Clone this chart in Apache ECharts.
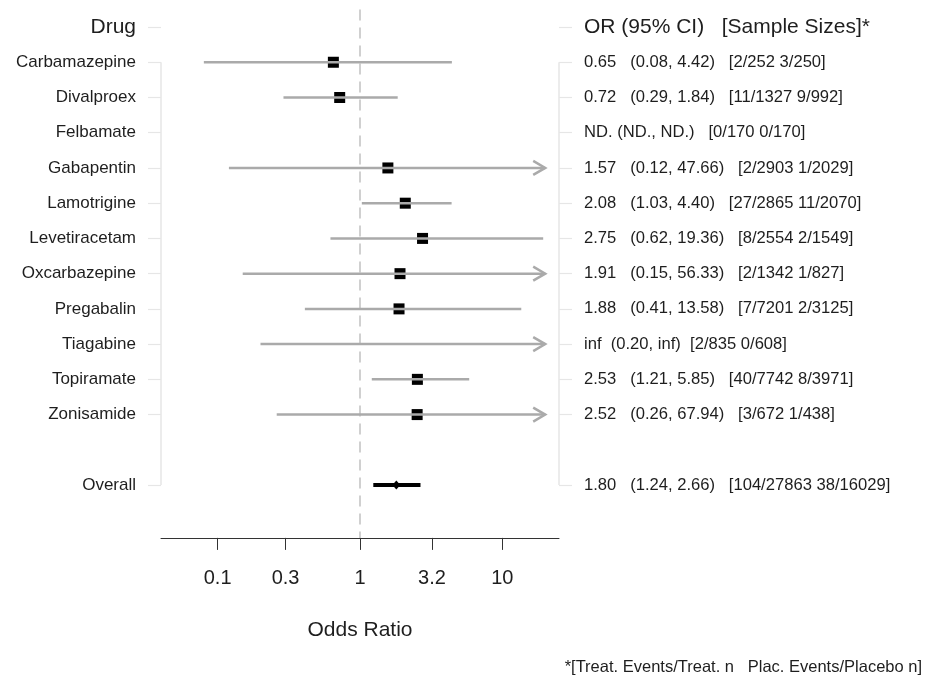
<!DOCTYPE html>
<html>
<head>
<meta charset="utf-8">
<script src="https://cdn.jsdelivr.net/npm/echarts@6/dist/echarts.min.js"></script>
<style>html,body{margin:0;padding:0;background:#fff;}#chart{width:929px;height:677px;}</style>
</head>
<body>
<div id="chart"></div>
<script>
// ---- data ----
const drugs = ['Carbamazepine','Divalproex','Felbamate','Gabapentin','Lamotrigine','Levetiracetam','Oxcarbazepine','Pregabalin','Tiagabine','Topiramate','Zonisamide'];
const orEst  = [0.65, 0.72, null, 1.57, 2.08, 2.75, 1.91, 1.88, Infinity, 2.53, 2.52];
const ciLow  = [0.08, 0.29, null, 0.12, 1.03, 0.62, 0.15, 0.41, 0.20, 1.21, 0.26];
const ciHigh = [4.42, 1.84, null, 47.66, 4.40, 19.36, 56.33, 13.58, Infinity, 5.85, 67.94];
const sampleSizes = ['2/252 3/250','11/1327 9/992','0/170 0/170','2/2903 1/2029','27/2865 11/2070','8/2554 2/1549','2/1342 1/827','7/7201 2/3125','2/835 0/608','40/7742 8/3971','3/672 1/438'];
const overallLabel = 'Overall';
const overallEst = 1.80, overallLow = 1.24, overallHigh = 2.66;
const overallSizes = '104/27863 38/16029';
const xTicks = [0.1, 0.3, 1, 3.2, 10];
const xMin = 0.04, xMax = 25, clipMax = 20, refLine = 1;
const leftHeader = 'Drug';
const rightHeader = 'OR (95% CI)   [Sample Sizes]*';
const footnote = '*[Treat. Events/Treat. n   Plac. Events/Placebo n]';

// ---- derived ----
function fmt(v){ return v == null ? 'ND.' : (isFinite(v) ? v.toFixed(2) : 'inf'); }
function rowText(e, l, h, n){
  if (e == null) return 'ND. (ND., ND.)   [' + n + ']';
  const gap = isFinite(e) ? '   ' : '  ';
  return fmt(e) + gap + '(' + fmt(l) + ', ' + fmt(h) + ')' + gap + '[' + n + ']';
}
const rowLabels = [leftHeader].concat(drugs, [' ', overallLabel, '  ']);
const rightLabels = [rightHeader].concat(
  drugs.map((d, i) => rowText(orEst[i], ciLow[i], ciHigh[i], sampleSizes[i])),
  [' ', rowText(overallEst, overallLow, overallHigh, overallSizes), '  ']);

const ciData = [];
drugs.forEach((d, i) => {
  if (ciLow[i] == null) return;
  const arrow = ciHigh[i] > clipMax ? 1 : 0;
  ciData.push([ciLow[i], Math.min(ciHigh[i], clipMax), isFinite(orEst[i]) ? orEst[i] : '-', d, arrow, 0]);
});
ciData.push([overallLow, overallHigh, overallEst, overallLabel, 0, 1]);

const FONT = 'Liberation Sans, Arial, sans-serif';
const TXT = '#1e1e1e';
const GRAY = '#aaaaaa';
const LIGHT = '#e6e6e6';

const chart = echarts.init(document.getElementById('chart'));
chart.setOption({
  animation: false,
  backgroundColor: '#fff',
  textStyle: { fontFamily: FONT },
  grid: { left: 161, right: 370, top: 9.4, bottom: 139.1, containLabel: false },
  xAxis: {
    type: 'log', logBase: 10, min: xMin, max: xMax,
    name: 'Odds Ratio', nameLocation: 'middle', nameGap: 82,
    nameTextStyle: { fontSize: 21, color: TXT, fontFamily: FONT },
    axisLine: { show: true, lineStyle: { color: '#333', width: 1 } },
    axisTick: { show: true, customValues: xTicks, length: 12, lineStyle: { color: '#333', width: 1 } },
    axisLabel: { customValues: xTicks, fontSize: 20, color: TXT, margin: 31, fontFamily: FONT,
      formatter: v => String(v) },
    splitLine: { show: false },
    minorTick: { show: false }
  },
  yAxis: [{
    type: 'category', inverse: true, data: rowLabels, position: 'left',
    axisLine: { show: false },
    axisTick: { show: true, alignWithLabel: true, length: 13, lineStyle: { color: LIGHT, width: 1.2 },
      interval: (i, v) => String(v).trim() !== '' },
    axisLabel: { interval: 0, margin: 25, fontSize: 17, color: TXT, fontFamily: FONT,
      formatter: (v, i) => i === 0 ? '{h|' + v + '}' : v,
      rich: { h: { fontSize: 21, color: TXT, fontFamily: FONT } } },
    splitLine: { show: false }
  }, {
    type: 'category', inverse: true, data: rightLabels, position: 'right',
    axisLine: { show: false },
    axisTick: { show: true, alignWithLabel: true, length: 13, lineStyle: { color: LIGHT, width: 1.2 },
      interval: (i, v) => String(v).trim() !== '' },
    axisLabel: { interval: 0, margin: 25, fontSize: 16.6, color: TXT, fontFamily: FONT,
      formatter: (v, i) => i === 0 ? '{h|' + v + '}' : v,
      rich: { h: { fontSize: 21, color: TXT, fontFamily: FONT } } },
    splitLine: { show: false }
  }],
  series: [
    {
      type: 'line', clip: false, symbol: 'none', silent: true, z: 1,
      data: [[xMin, drugs[0]], [xMin, overallLabel]],
      lineStyle: { color: LIGHT, width: 1.5 },
      markLine: {
        silent: true, symbol: 'none', label: { show: false },
        lineStyle: { type: [11, 7], color: '#d0d0d0', width: 2 },
        data: [{ xAxis: refLine }]
      }
    },
    {
      type: 'line', clip: false, symbol: 'none', silent: true, z: 1,
      data: [[xMax, drugs[0]], [xMax, overallLabel]],
      lineStyle: { color: LIGHT, width: 1.5 }
    },
    {
      type: 'custom', z: 5, clip: false,
      encode: { x: [0, 1, 2], y: 3 },
      data: ciData,
      renderItem: function (params, api) {
        const yi = api.value(3);
        const p0 = api.coord([api.value(0), yi]);
        const p1 = api.coord([api.value(1), yi]);
        const est = api.value(2);
        const arrow = api.value(4);
        const overall = api.value(5);
        const y = p0[1];
        const children = [];
        if (overall) {
          children.push({ type: 'line', shape: { x1: p0[0], y1: y, x2: p1[0], y2: y },
            style: { stroke: '#000', lineWidth: 4 } });
          const pe = api.coord([est, yi]);
          children.push({ type: 'polygon', shape: { points: [[pe[0] - 4, y], [pe[0], y - 4.5], [pe[0] + 4, y], [pe[0], y + 4.5]] },
            style: { fill: '#000' } });
        } else {
          if (!isNaN(est)) {
            const pe = api.coord([est, yi]);
            children.push({ type: 'rect', shape: { x: pe[0] - 5.5, y: y - 5.5, width: 11, height: 11 },
              style: { fill: '#000' } });
          }
          children.push({ type: 'line', shape: { x1: p0[0], y1: y, x2: p1[0], y2: y },
            style: { stroke: GRAY, lineWidth: 2.5 } });
          if (arrow) {
            children.push({ type: 'polyline', shape: { points: [[p1[0] - 12, y - 7], [p1[0], y], [p1[0] - 12, y + 7]] },
              style: { stroke: GRAY, lineWidth: 2.5, fill: null } });
          }
        }
        return { type: 'group', children: children };
      }
    }
  ],
  graphic: [{
    type: 'text', right: 7, top: 659,
    style: { text: footnote, fontSize: 16.5, fontFamily: FONT, fill: TXT }
  }]
});
</script>
</body>
</html>
